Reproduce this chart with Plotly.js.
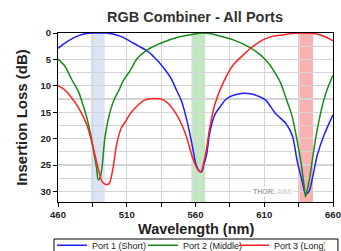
<!DOCTYPE html>
<html>
<head>
<meta charset="utf-8">
<script src="https://cdn.plot.ly/plotly-3.0.1.min.js"></script>
<style>
html,body{margin:0;padding:0;background:#fff;}
#chart{width:341px;height:251px;}
</style>
</head>
<body>
<div id="chart"></div>
<script>
// Port 1 (Short) – blue
var port1X = [460,465,470,475,480,485,490,495,500,505,510,518,525.5,530,535,542,546,550,554.5,558,560.5,563,564.5,566,568,570.5,574,578.7,582,587.5,595,600,605,611,618,625.6,630.4,634,637.6,640,642.5,645,648.6,653.5,660];
var port1Y = [2.9,1.9,1.1,0.5,0.15,0.02,0,0,0.2,0.6,1.2,2.4,3.5,4.6,6.0,8.5,10.7,13.0,17.4,21.8,25.0,26.2,26.3,25.0,23.1,18.7,15.5,13.7,12.6,11.8,11.4,11.5,11.9,12.7,15.2,17.1,19.4,24.3,28.1,30.4,30.0,27.5,23.1,19.3,15.5];
// Port 2 (Middle) – green
var port2X = [460,465,470,475,478,481,484,486,488,489.3,490.5,492,494,496,498,501,504,508,512,518,525,535,547,557,565,572,578,587.5,600,607,611,614,618,622,626,630,634,637,639,640,641,643,645,648,653,656,660];
var port2Y = [4.9,6.3,8.8,11.2,13.5,16.1,19.5,22.5,25.5,27.8,27.5,25.5,20.0,17.0,14.8,12.5,11.0,8.8,7.3,4.7,3.2,1.9,0.8,0.3,0.0,0.2,0.6,1.3,2.8,4.1,5.1,6.0,7.6,9.5,12.5,15.5,20.5,25.0,29.0,31.0,30.0,27.5,24.0,19.0,13.0,10.5,8.0];
// Port 3 (Long) – red
var port3X = [460,465,470,475,481,484.5,488,490,492,494,496,497.5,500,502.6,506,509,512,516,523,530,535,540,547,553,558,562,564,566,568,570,574,580,587,595,602,609,615,623,630,640,648,655,660];
var port3Y = [9.9,10.8,12.3,14.2,17.4,20.6,24.3,26.5,28.1,28.6,28.7,28.4,25.6,21.2,18.0,16.8,15.5,14.2,12.7,12.4,12.5,13.3,15.8,19.3,23.7,26.0,26.3,24.5,22.0,18.5,13.6,9.5,6.2,4.1,2.5,1.3,0.7,0.4,0.1,0,0.2,0.8,1.5];

var seriesNames = ['Port 1 (Short)','Port 2 (Middle)','Port 3 (Long)'];
var seriesColors = ['#1f1fff','#1a8a1a','#ff2222'];

// Laser bands (nm)
var bandStart = [484, 557, 635.5];
var bandEnd   = [494, 567, 645.5];
var bandColors = ['#dbe4f4','#c2e8c2','#f9b2b2'];

var xTicks = [460,510,560,610,660];
var yTicks = [0,5,10,15,20,25,30];

var xs = [port1X, port2X, port3X];
var ys = [port1Y, port2Y, port3Y];
var traces = [];
for (var i = 0; i < 3; i++) {
  traces.push({
    x: xs[i], y: ys[i], type: 'scatter', mode: 'lines',
    name: seriesNames[i],
    line: {color: seriesColors[i], width: 1.5, shape: 'spline', smoothing: 0.8}
  });
}

var shapes = [];
for (var j = 0; j < bandStart.length; j++) {
  shapes.push({type: 'rect', xref: 'x', yref: 'paper', x0: bandStart[j], x1: bandEnd[j], y0: 0, y1: 1,
    fillcolor: bandColors[j], line: {width: 0}, layer: 'below'});
}
// legend frame (extends past the bottom edge, as in the reference)
shapes.push({type: 'rect', xref: 'paper', yref: 'paper', x0: -0.0145, x1: 1.018, y0: -0.219, y1: -0.36,
  fillcolor: 'rgba(0,0,0,0)', line: {color: '#000', width: 1}, layer: 'above'});

var FAM = 'Liberation Sans, Arial, sans-serif';
var tickFont = {family: FAM, size: 9.5, color: '#222', weight: 'bold'};
var layout = {
  width: 341, height: 251,
  margin: {l: 58, r: 8, t: 33, b: 49},
  paper_bgcolor: '#ffffff', plot_bgcolor: '#ffffff',
  showlegend: true,
  title: {text: 'RGB Combiner - All Ports', x: 0.572, xref: 'container', xanchor: 'center',
    y: 0.932, yref: 'container', yanchor: 'middle',
    font: {family: FAM, size: 14.5, color: '#333', weight: 'bold'}},
  xaxis: {
    range: [460, 660], tickvals: xTicks, ticktext: xTicks.map(String),
    tickfont: tickFont, ticks: 'outside', ticklen: 4, tickcolor: '#000',
    showgrid: true, gridcolor: '#d4d4d4', gridwidth: 1.2,
    minor: {dtick: 25, tick0: 460, showgrid: true, gridcolor: '#d4d4d4', gridwidth: 1.2, ticks: 'outside', ticklen: 4, tickcolor: '#000'},
    showline: true, linecolor: '#000', linewidth: 1, mirror: true, zeroline: false
  },
  yaxis: {
    range: [32, 0], tickvals: yTicks, ticktext: yTicks.map(String),
    tickfont: tickFont, ticks: 'outside', ticklen: 4, tickcolor: '#000',
    showgrid: true, gridcolor: '#d4d4d4', gridwidth: 1.2,
    minor: {dtick: 2.5, tick0: 0, showgrid: true, gridcolor: '#d4d4d4', gridwidth: 1.2, ticks: ''},
    showline: true, linecolor: '#000', linewidth: 1, mirror: true, zeroline: false,
    title: {text: 'Insertion Loss (dB)', standoff: 9, font: {family: FAM, size: 15, color: '#222', weight: 'bold'}}
  },
  legend: {orientation: 'h', xref: 'container', yref: 'container', x: 0.1525, xanchor: 'left', y: 0.081, yanchor: 'top',
    borderwidth: 0, bgcolor: 'rgba(0,0,0,0)', entrywidth: 46,
    font: {family: FAM, size: 9, color: '#222'}},
  shapes: shapes,
  annotations: [{
    text: 'Wavelength (nm)', xref: 'paper', yref: 'paper', x: 0.5, y: -0.157,
    xanchor: 'center', yanchor: 'middle', showarrow: false,
    font: {family: FAM, size: 14.5, color: '#222', weight: 'bold'}
  }, {
    text: '<span style="color:#a8a8a8">THOR</span><span style="color:#d4d4d4">LABS</span>',
    xref: 'x', yref: 'y', x: 616, y: 30, showarrow: false, xanchor: 'center', yanchor: 'middle',
    bgcolor: '#ffffff', font: {family: FAM, size: 7, weight: 'bold'}
  }]
};

Plotly.newPlot('chart', traces, layout, {displayModeBar: false, staticPlot: true});
</script>
</body>
</html>
